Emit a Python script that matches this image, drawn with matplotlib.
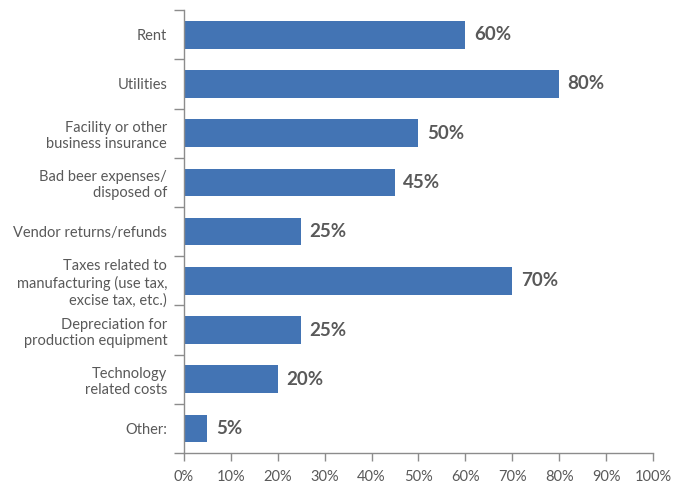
import matplotlib.pyplot as plt
import numpy as np
from matplotlib.ticker import FixedLocator, FuncFormatter

categories = [
    "Rent",
    "Utilities",
    "Facility or other\nbusiness insurance",
    "Bad beer expenses/\ndisposed of",
    "Vendor returns/refunds",
    "Taxes related to\nmanufacturing (use tax,\nexcise tax, etc.)",
    "Depreciation for\nproduction equipment",
    "Technology\nrelated costs",
    "Other:",
]
shares = [60, 80, 50, 45, 25, 70, 25, 20, 5]
x_ticks = [0, 10, 20, 30, 40, 50, 60, 70, 80, 90, 100]

BAR = "#4374b4"
TEXT = "#595959"
AXIS = "#8c8c8c"

plt.rcParams["font.family"] = ["Lato", "DejaVu Sans"]

fig = plt.figure(figsize=(6.76, 4.84), dpi=100)
ax = fig.add_axes([0.272, 0.064, 0.694, 0.915])

pos = np.arange(len(categories))
ax.barh(pos, shares, height=0.56, color=BAR)
for p, v in zip(pos, shares):
    ax.text(v + 1.8, p, f"{v}%", va="center", ha="left",
            fontsize=13.5, fontweight="bold", color=TEXT)

ax.set_xlim(0, 100)
ax.set_ylim(len(categories) - 0.5, -0.5)
ax.set_xticks(x_ticks)
ax.xaxis.set_major_formatter(FuncFormatter(lambda v, _: f"{v:.0f}%"))
ax.set_yticks(pos)
ax.set_yticklabels(categories, linespacing=1.2)
ax.yaxis.set_minor_locator(FixedLocator(np.arange(-0.5, len(categories), 1.0)))

for s in ("top", "right"):
    ax.spines[s].set_visible(False)
for s in ("left", "bottom"):
    ax.spines[s].set_color(AXIS)
    ax.spines[s].set_linewidth(1.0)

ax.tick_params(axis="y", which="major", length=0, pad=12, labelsize=10.5, labelcolor=TEXT)
ax.tick_params(axis="y", which="minor", length=7, color=AXIS, width=1.0)
ax.tick_params(axis="x", length=6, color=AXIS, width=1.0, pad=6,
               labelsize=10.5, labelcolor=TEXT)

fig.savefig("out.png", dpi=100)
